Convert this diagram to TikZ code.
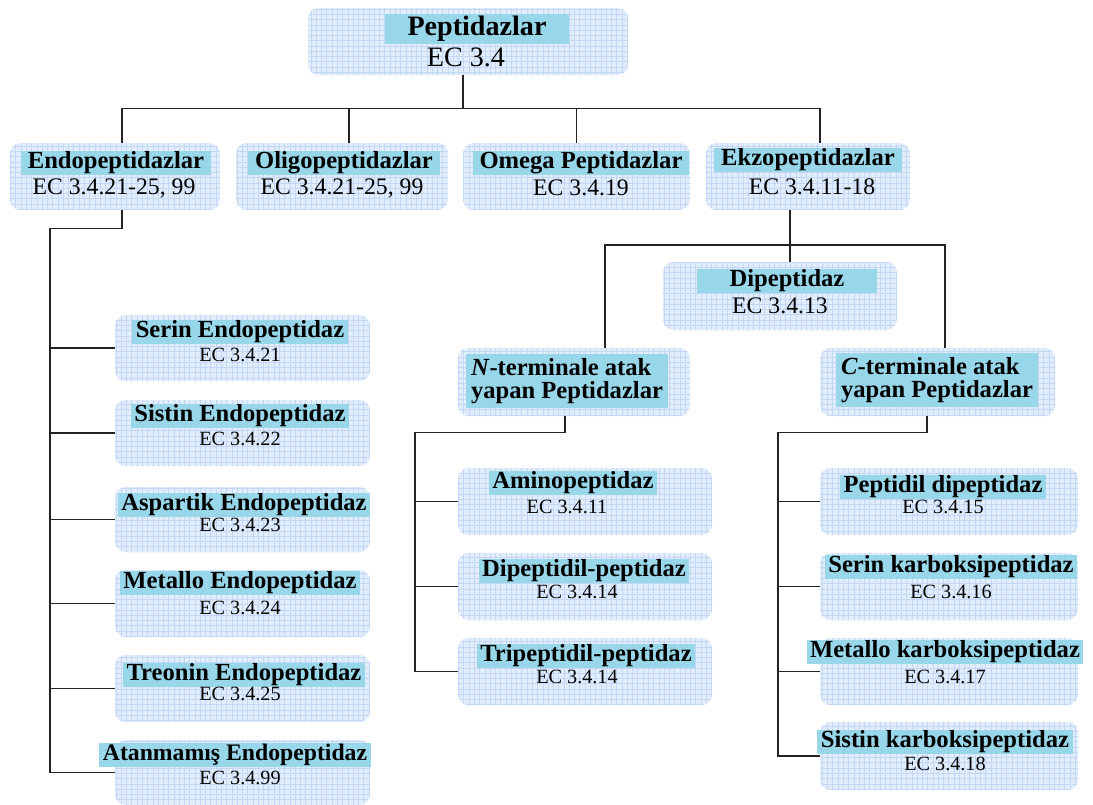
\documentclass[tikz,border=0pt]{standalone}
\usepackage{fontspec}
\setmainfont{Liberation Serif}
\usetikzlibrary{fit,patterns,positioning}

\definecolor{kutumavi}{RGB}{226,237,252}
\definecolor{izgara}{RGB}{196,215,246}
\definecolor{serit}{RGB}{152,215,234}
\definecolor{hat}{RGB}{35,35,35}

\tikzset{
  kutu/.style={inner sep=0pt, rounded corners=6pt, fill=kutumavi,
    postaction={pattern=grid, pattern color=izgara}},
  baslik/.style={fill=serit, inner xsep=2pt, inner ysep=0.5pt,
    font=\bfseries\fontsize{14}{13.5}\selectfont},
  ec/.style={inner sep=0pt, font=\fontsize{13.5}{14}\selectfont},
  ecalt/.style={inner sep=0pt, font=\fontsize{11.5}{12}\selectfont},
  bag/.style={draw=hat, line width=0.9pt}
}

\begin{document}
\begin{tikzpicture}[x=0.02cm, y=-0.02cm]
  \useasboundingbox (0,0) rectangle (1093,805);

  % Kutular
  \node[kutu, fit={(308,8) (628,75)}] (pep) {};
  \node[kutu, fit={(10,143) (220,210)}] (endo) {};
  \node[kutu, fit={(236,143) (448,210)}] (oligo) {};
  \node[kutu, fit={(463,143) (690,210)}] (omega) {};
  \node[kutu, fit={(706,143) (910,210)}] (ekzo) {};
  \node[kutu, fit={(663,262) (897,330)}] (dip) {};
  \node[kutu, fit={(458,348) (690,416)}] (nter) {};
  \node[kutu, fit={(820,348) (1055,416)}] (cter) {};

  % Endopeptidaz alt kutulari
  \node[kutu, fit={(115,315) (370,381)}] (serin) {};
  \node[kutu, fit={(115,400) (370,466)}] (sistin) {};
  \node[kutu, fit={(115,487) (370,552)}] (aspartik) {};
  \node[kutu, fit={(115,570) (370,637)}] (metallo) {};
  \node[kutu, fit={(115,655) (370,722)}] (treonin) {};
  \node[kutu, fit={(115,740) (370,805)}] (atanmamis) {};

  % N-terminal alt kutulari
  \node[kutu, fit={(458,468) (712,535)}] (amino) {};
  \node[kutu, fit={(458,553) (712,620)}] (dipeptidil) {};
  \node[kutu, fit={(458,638) (712,705)}] (tripeptidil) {};

  % C-terminal alt kutulari
  \node[kutu, fit={(820,468) (1078,535)}] (peptidil) {};
  \node[kutu, fit={(820,553) (1078,620)}] (serink) {};
  \node[kutu, fit={(820,638) (1078,705)}] (metallok) {};
  \node[kutu, fit={(820,722) (1078,790)}] (sistink) {};

  % Baglantilar
  \draw[bag] ([xshift=-2.8pt]pep.south) -- ++(0,33) coordinate (bus);
  \draw[bag] ([xshift=4pt]endo.north) |- (bus) -| ([xshift=6.8pt]ekzo.north);
  \draw[bag] ([xshift=4pt]oligo.north) -- ([xshift=4pt]oligo.north |- bus);
  \draw[bag] (omega.north) -- (omega.north |- bus);

  \draw[bag] ([xshift=4pt]endo.south) -- ++(0,18) -- ++(-72,0) coordinate (endoomurga) |- (atanmamis.west);
  \foreach \k in {serin,sistin,aspartik,metallo,treonin}
    \draw[bag] (\k.west) -- (\k.west -| endoomurga);

  \coordinate (ayrim) at (790,245);
  \coordinate (nkol) at (605,0);
  \coordinate (ckol) at (945,0);
  \draw[bag] (ekzo.south -| ayrim) -- (dip.north -| ayrim);
  \draw[bag] (nter.north -| nkol) |- (ayrim) -| (cter.north -| ckol);

  \draw[bag] ([xshift=-5pt]nter.south) -- ++(0,16) -- ++(-150,0) coordinate (nomurga) |- (tripeptidil.west);
  \foreach \k in {amino,dipeptidil}
    \draw[bag] (\k.west) -- (\k.west -| nomurga);

  \draw[bag] ([xshift=-6pt]cter.south) -- ++(0,16) -- ++(-149,0) coordinate (comurga) |- (sistink.west);
  \foreach \k in {peptidil,serink,metallok}
    \draw[bag] (\k.west) -- (\k.west -| comurga);

  % Yazilar
  \node[baslik, font=\bfseries\fontsize{16}{16}\selectfont, minimum width=105pt, minimum height=17pt] (pepB) at (477,29) {Peptidazlar};
  \node[ec, font=\fontsize{16}{16}\selectfont] (pepE) at (466,57) {EC 3.4};

  \node[baslik, inner xsep=4pt] (endoB) at (116,163) {Endopeptidazlar};
  \node[ec] (endoE) at (114,188) {EC 3.4.21-25, 99};
  \node[baslik, inner xsep=4pt] (oligoB) at (344,163) {Oligopeptidazlar};
  \node[ec] (oligoE) at (342,188) {EC 3.4.21-25, 99};
  \node[baslik, inner xsep=4pt] (omegaB) at (581,163) {Omega Peptidazlar};
  \node[ec] (omegaE) at (581,188) {EC 3.4.19};
  \node[baslik, inner xsep=4pt] (ekzoB) at (808,160) {Ekzopeptidazlar};
  \node[ec] (ekzoE) at (812,187) {EC 3.4.11-18};

  \node[baslik, minimum width=102pt] (dipB) at (787,281) {Dipeptidaz};
  \node[ec] (dipE) at (780,306) {EC 3.4.13};

  \node[baslik, align=left, inner xsep=3pt, inner ysep=2pt] (nterB) at (567,381) {\textit{N}-terminale atak\\yapan Peptidazlar};
  \node[baslik, align=left, inner xsep=3pt, inner ysep=2pt] (cterB) at (937,380) {\textit{C}-terminale atak\\yapan Peptidazlar};

  \node[baslik] (serinB) at (240,332) {Serin Endopeptidaz};
  \node[ecalt] (serinE) at (240,355) {EC 3.4.21};
  \node[baslik] (sistinB) at (240,416) {Sistin Endopeptidaz};
  \node[ecalt] (sistinE) at (240,439) {EC 3.4.22};
  \node[baslik] (aspartikB) at (244,505) {Aspartik Endopeptidaz};
  \node[ecalt] (aspartikE) at (240,525) {EC 3.4.23};
  \node[baslik] (metalloB) at (240,583) {Metallo Endopeptidaz};
  \node[ecalt] (metalloE) at (240,608) {EC 3.4.24};
  \node[baslik] (treoninB) at (244,675) {Treonin Endopeptidaz};
  \node[ecalt] (treoninE) at (240,694) {EC 3.4.25};
  \node[baslik, font=\bfseries\fontsize{13.5}{13.5}\selectfont] (atanmamisB) at (235,755) {Atanmamış Endopeptidaz};
  \node[ecalt] (atanmamisE) at (240,778) {EC 3.4.99};

  \node[baslik] (aminoB) at (573,483) {Aminopeptidaz};
  \node[ecalt] (aminoE) at (567,507) {EC 3.4.11};
  \node[baslik] (dipeptidilB) at (584,571) {Dipeptidil-peptidaz};
  \node[ecalt] (dipeptidilE) at (577,592) {EC 3.4.14};
  \node[baslik] (tripeptidilB) at (586,656) {Tripeptidil-peptidaz};
  \node[ecalt] (tripeptidilE) at (577,677) {EC 3.4.14};

  \node[baslik] (peptidilB) at (943,487) {Peptidil dipeptidaz};
  \node[ecalt] (peptidilE) at (943,507) {EC 3.4.15};
  \node[baslik] (serinkB) at (951,567) {Serin karboksipeptidaz};
  \node[ecalt] (serinkE) at (951,592) {EC 3.4.16};
  \node[baslik] (metallokB) at (945,652) {Metallo karboksipeptidaz};
  \node[ecalt] (metallokE) at (945,677) {EC 3.4.17};
  \node[baslik] (sistinkB) at (945,742) {Sistin karboksipeptidaz};
  \node[ecalt] (sistinkE) at (945,764) {EC 3.4.18};

\end{tikzpicture}
\end{document}
